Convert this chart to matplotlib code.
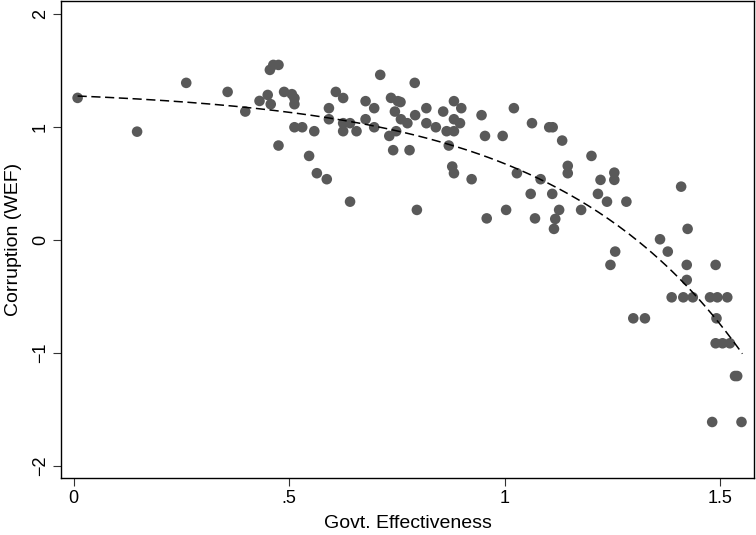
import numpy as np
import matplotlib
matplotlib.use("Agg")
import matplotlib.pyplot as plt

plt.rcParams["font.family"] = ["Liberation Sans", "DejaVu Sans"]

# values
govt_eff = [
    0.009, 0.147, 0.261, 0.357, 0.398, 0.431, 0.450, 0.457, 0.455, 0.463,
    0.475, 0.475, 0.488, 0.506, 0.512, 0.512, 0.512, 0.530, 0.546, 0.558,
    0.564, 0.587, 0.592, 0.592, 0.608, 0.625, 0.625, 0.625, 0.641, 0.641,
    0.656, 0.677, 0.677, 0.697, 0.697, 0.711, 0.732, 0.736, 0.741, 0.745,
    0.748, 0.752, 0.758, 0.759, 0.774, 0.779, 0.791, 0.792, 0.796, 0.818,
    0.818, 0.840, 0.857, 0.865, 0.870, 0.878, 0.882, 0.882, 0.882, 0.882,
    0.896, 0.899, 0.923, 0.946, 0.954, 0.958, 0.995, 1.003, 1.021, 1.028,
    1.060, 1.063, 1.070, 1.083, 1.103, 1.111, 1.110, 1.114, 1.117, 1.126,
    1.133, 1.146, 1.146, 1.177, 1.201, 1.216, 1.222, 1.237, 1.245, 1.254,
    1.254, 1.256, 1.282, 1.298, 1.325, 1.360, 1.378, 1.387, 1.409, 1.414,
    1.422, 1.422, 1.424, 1.436, 1.476, 1.481, 1.489, 1.491, 1.493, 1.489,
    1.505, 1.516, 1.522, 1.534, 1.539, 1.549,
]
corruption = [
    1.257, 0.958, 1.390, 1.310, 1.136, 1.230, 1.283, 1.201, 1.505, 1.549,
    1.549, 0.835, 1.310, 1.290, 1.254, 1.201, 0.997, 0.997, 0.743, 0.962,
    0.590, 0.537, 1.166, 1.068, 1.310, 1.256, 1.033, 0.962, 1.033, 0.338,
    0.962, 1.228, 1.068, 1.166, 0.997, 1.461, 0.920, 1.257, 0.794, 1.136,
    0.962, 1.228, 1.220, 1.068, 1.033, 0.794, 1.390, 1.104, 0.265, 1.166,
    1.033, 0.997, 1.136, 0.962, 0.835, 0.649, 0.590, 1.228, 1.068, 0.962,
    1.033, 1.166, 0.537, 1.104, 0.920, 0.190, 0.920, 0.265, 1.166, 0.590,
    0.407, 1.033, 0.190, 0.537, 0.997, 0.997, 0.407, 0.097, 0.185, 0.265,
    0.879, 0.655, 0.590, 0.265, 0.743, 0.407, 0.531, 0.338, -0.222, 0.595,
    0.531, -0.104, 0.338, -0.695, -0.695, 0.005, -0.104, -0.509, 0.471, -0.509,
    -0.222, -0.355, 0.097, -0.509, -0.509, -1.613, -0.222, -0.695, -0.509, -0.916,
    -0.916, -0.509, -0.916, -1.206, -1.206, -1.613,
]
# fitted curve y = fit_a - fit_b * exp(fit_c * x), parameters
fit_a = 1.3435
fit_b = 0.0685
fit_c = 2.28

x_ticks = [0, 0.5, 1, 1.5]
x_tick_labels = ["0", ".5", "1", "1.5"]
y_ticks = [-2, -1, 0, 1, 2]
y_tick_labels = ["\u22122", "\u22121", "0", "1", "2"]

x = np.array(govt_eff)
y = np.array(corruption)

fig = plt.figure(figsize=(7.56, 5.35), dpi=100)
ax = fig.add_axes([61 / 756, 57 / 535, 693 / 756, 477 / 535])

ax.scatter(x, y, s=58, color="#595959", edgecolors="none", zorder=2)

xs = np.linspace(x.min(), x.max() + 0.002, 200)
ax.plot(xs, fit_a - fit_b * np.exp(fit_c * xs), color="black", lw=1.1,
        ls=(0, (6, 3)), zorder=3)

ax.set_xlim(-0.0295, 1.578)
ax.set_ylim(-2.109, 2.115)
ax.set_xticks(x_ticks)
ax.set_xticklabels(x_tick_labels)
ax.set_yticks(y_ticks)
ax.set_yticklabels(y_tick_labels, rotation=90, va="center")
ax.tick_params(axis="both", length=5.8, width=0.8, color="#333333",
               labelsize=13, pad=3)

for sp in ax.spines.values():
    sp.set_linewidth(1.0)
    sp.set_color("black")

ax.set_xlabel("Govt. Effectiveness", fontsize=14, va="baseline")
ax.xaxis.set_label_coords(0.5, -0.1048)
ax.set_ylabel("Corruption (WEF)", fontsize=14, va="center")
ax.yaxis.set_label_coords(-0.068, 0.5)

fig.savefig("out.png", dpi=100)
